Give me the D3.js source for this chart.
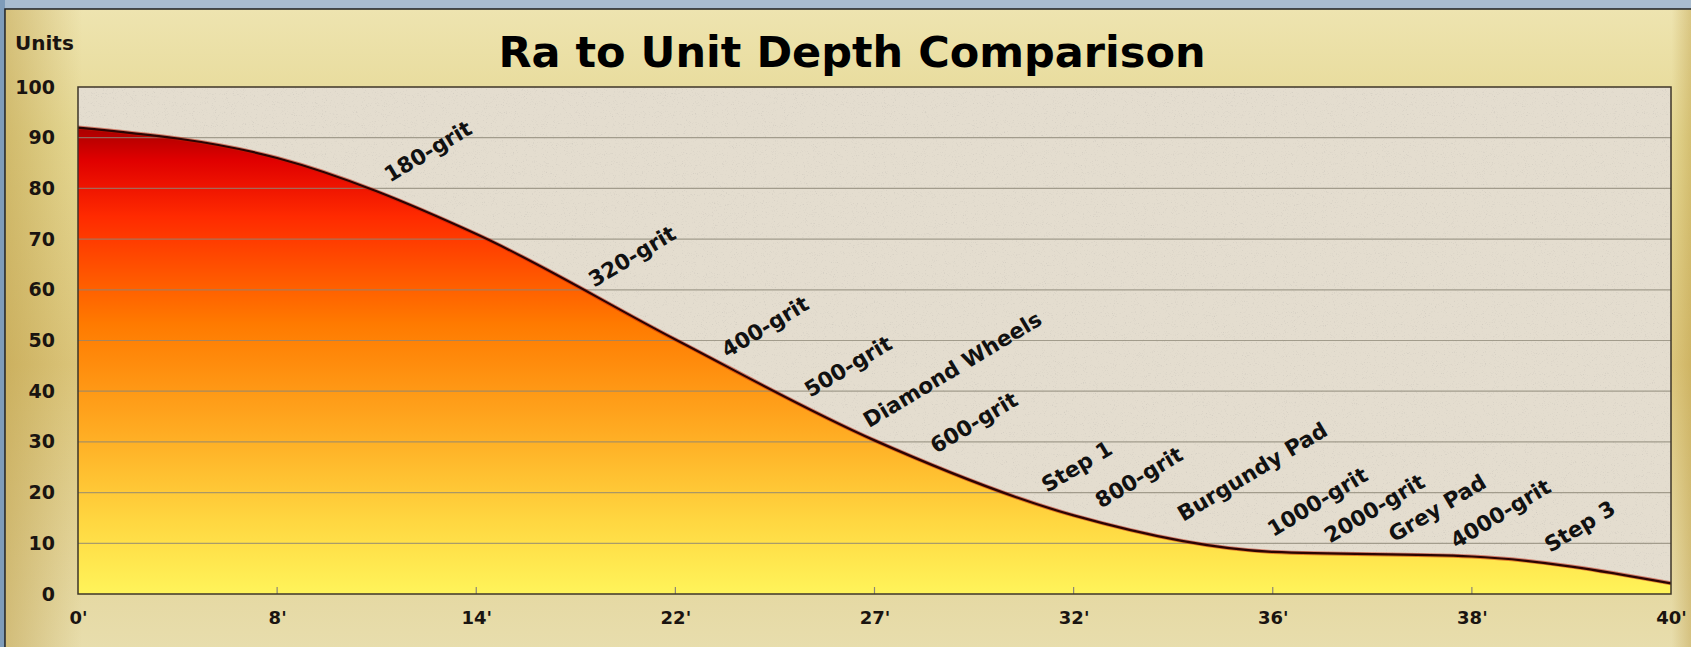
<!DOCTYPE html>
<html>
<head>
<meta charset="utf-8">
<script src="https://cdn.jsdelivr.net/npm/d3@7"></script>
<style>
  body { margin: 0; background: #a9bccf; overflow: hidden; }
  svg { display: block; }
  text { font-family: "DejaVu Sans", Verdana, sans-serif; font-weight: bold; }
</style>
</head>
<body>
<svg id="chart" width="1691" height="647"></svg>
<script>
// x categories (depth) and the Ra value read at each one
var xLabels = ["0'", "8'", "14'", "22'", "27'", "32'", "36'", "38'", "40'"];
var raValues = [92, 86, 71, 50.2, 30.3, 15.5, 8.3, 7.4, 2.1];
var yTicks = [0, 10, 20, 30, 40, 50, 60, 70, 80, 90, 100];

// notes along the curve: text, position on the x index, value
var noteNames = ["180-grit", "320-grit", "400-grit", "500-grit", "Diamond Wheels", "600-grit", "Step 1",
  "800-grit", "Burgundy Pad", "1000-grit", "2000-grit", "Grey Pad", "4000-grit", "Step 3"];
var noteX = [1.567, 2.592, 3.26, 3.677, 3.973, 4.309, 4.867, 5.138, 5.55, 6.002, 6.288, 6.61, 6.921, 7.393];
var noteY = [81.1, 60.4, 46.5, 38.7, 32.7, 27.6, 19.9, 16.8, 14.2, 11.2, 9.9, 10.1, 8.9, 8.1];

var svg = d3.select("#chart");
var width = +svg.attr("width");
var height = +svg.attr("height");

// plot box (window.top is taken, so prefix these)
var plotL = 78, plotR = 1671, plotT = 87, plotB = 594;

var x = d3.scaleLinear().domain([0, xLabels.length - 1]).range([plotL, plotR]);
var y = d3.scaleLinear().domain([0, 100]).range([plotB, plotT]);

var defs = svg.append("defs");

// gold panel colours
var pv = defs.append("linearGradient").attr("id", "panelV").attr("x1", 0).attr("y1", 0).attr("x2", 0).attr("y2", 1);
pv.append("stop").attr("offset", "0").attr("stop-color", "#eee4b0");
pv.append("stop").attr("offset", "0.2").attr("stop-color", "#e5d893");
pv.append("stop").attr("offset", "0.55").attr("stop-color", "#dcc67c");
pv.append("stop").attr("offset", "1").attr("stop-color", "#e8deae");

var ph = defs.append("linearGradient").attr("id", "panelH").attr("x1", 0).attr("y1", 0).attr("x2", 1).attr("y2", 0);
ph.append("stop").attr("offset", "0").attr("stop-color", "#b8963c").attr("stop-opacity", 0.45);
ph.append("stop").attr("offset", "0.045").attr("stop-color", "#b8963c").attr("stop-opacity", 0);
ph.append("stop").attr("offset", "0.985").attr("stop-color", "#b8963c").attr("stop-opacity", 0);
ph.append("stop").attr("offset", "1").attr("stop-color", "#b8963c").attr("stop-opacity", 0.5);

// fill under the curve, dark red at the top to yellow at 0
var ag = defs.append("linearGradient").attr("id", "areaFill").attr("gradientUnits", "userSpaceOnUse")
  .attr("x1", 0).attr("y1", y(d3.max(raValues))).attr("x2", 0).attr("y2", plotB);
var stops = [[0, "#a80000"], [0.07, "#e00000"], [0.19, "#ff2a00"], [0.42, "#ff7a00"], [0.65, "#ffab22"], [0.84, "#ffd640"], [1, "#fff45a"]];
stops.forEach(function(s) {
  ag.append("stop").attr("offset", s[0]).attr("stop-color", s[1]);
});

// speckles for the stone background
var grain = defs.append("filter").attr("id", "grain").attr("x", 0).attr("y", 0).attr("width", 1).attr("height", 1);
grain.append("feTurbulence").attr("type", "fractalNoise").attr("baseFrequency", 0.9).attr("numOctaves", 2).attr("seed", 7);
grain.append("feColorMatrix").attr("type", "matrix")
  .attr("values", "0 0 0 0 0.55  0 0 0 0 0.52  0 0 0 0 0.47  3.2 0 0 0 -1.9");

defs.append("clipPath").attr("id", "plotClip")
  .append("rect").attr("x", plotL).attr("y", plotT).attr("width", plotR - plotL).attr("height", plotB - plotT);

// background frame and panel
svg.append("rect").attr("width", width).attr("height", height).attr("fill", "#a9bccf");
svg.append("rect").attr("x", 0).attr("y", 0).attr("width", 5).attr("height", height).attr("fill", "#7f9cb9");
svg.append("rect").attr("x", 5).attr("y", 9).attr("width", width).attr("height", height)
  .attr("fill", "url(#panelV)").attr("stroke", "#1e1e1e").attr("stroke-width", 1.5);
svg.append("rect").attr("x", 6).attr("y", 10).attr("width", width).attr("height", height).attr("fill", "url(#panelH)");

// plot area
svg.append("rect").attr("x", plotL).attr("y", plotT).attr("width", plotR - plotL).attr("height", plotB - plotT)
  .attr("fill", "#e4ddcf");
svg.append("rect").attr("x", plotL).attr("y", plotT).attr("width", plotR - plotL).attr("height", plotB - plotT)
  .attr("filter", "url(#grain)").attr("opacity", 0.55);

var plot = svg.append("g").attr("clip-path", "url(#plotClip)");

var area = d3.area()
  .x(function(d, i) { return x(i); })
  .y0(plotB)
  .y1(function(d) { return y(d); })
  .curve(d3.curveMonotoneX);

var line = d3.line()
  .x(function(d, i) { return x(i); })
  .y(function(d) { return y(d); })
  .curve(d3.curveMonotoneX);

plot.append("path").datum(raValues).attr("d", area).attr("fill", "url(#areaFill)");

// grid lines on top of the fill
plot.selectAll(".grid").data(yTicks.slice(1, -1)).enter()
  .append("line")
  .attr("class", "grid")
  .attr("x1", plotL).attr("x2", plotR)
  .attr("y1", function(d) { return y(d); })
  .attr("y2", function(d) { return y(d); })
  .attr("stroke", "#8c8676").attr("stroke-opacity", 0.75).attr("stroke-width", 1.2);

plot.append("path").datum(raValues).attr("d", line)
  .attr("fill", "none").attr("stroke", "#c21a00").attr("stroke-width", 4).attr("stroke-opacity", 0.5);
plot.append("path").datum(raValues).attr("d", line)
  .attr("fill", "none").attr("stroke", "#2b0404").attr("stroke-width", 2.2);

// small ticks rising from the bottom
svg.selectAll(".xtick").data(d3.range(1, xLabels.length - 1)).enter()
  .append("line")
  .attr("x1", function(d) { return x(d); })
  .attr("x2", function(d) { return x(d); })
  .attr("y1", plotB - 7).attr("y2", plotB)
  .attr("stroke", "#8c8676").attr("stroke-width", 1.2);

svg.append("rect").attr("x", plotL).attr("y", plotT).attr("width", plotR - plotL).attr("height", plotB - plotT)
  .attr("fill", "none").attr("stroke", "#3e3628").attr("stroke-width", 1.5);

// axes
var yAxis = svg.append("g").attr("transform", "translate(" + plotL + ",0)")
  .call(d3.axisLeft(y).tickValues(yTicks).tickSize(0).tickPadding(23));
yAxis.select(".domain").remove();
yAxis.selectAll("text").attr("font-size", 19).attr("fill", "#1a1410")
  .style("font-family", "'DejaVu Sans', Verdana, sans-serif").style("font-weight", "bold");

var xAxis = svg.append("g").attr("transform", "translate(0," + plotB + ")")
  .call(d3.axisBottom(x).tickValues(d3.range(xLabels.length)).tickFormat(function(i) { return xLabels[i]; })
    .tickSize(0).tickPadding(17));
xAxis.select(".domain").remove();
xAxis.selectAll("text").attr("font-size", 18).attr("fill", "#1a1410")
  .style("font-family", "'DejaVu Sans', Verdana, sans-serif").style("font-weight", "bold");

// notes on the curve
svg.selectAll(".note").data(noteNames).enter()
  .append("text")
  .attr("class", "note")
  .attr("transform", function(d, i) {
    return "translate(" + x(noteX[i]) + "," + y(noteY[i]) + ") rotate(-31)";
  })
  .attr("font-size", 21.5)
  .attr("fill", "#111")
  .text(function(d) { return d; });

// titles
svg.append("text").attr("x", 852).attr("y", 67).attr("text-anchor", "middle")
  .attr("font-size", 43).attr("fill", "#000").text("Ra to Unit Depth Comparison");
svg.append("text").attr("x", 15).attr("y", 50).attr("font-size", 20).attr("fill", "#1a1410").text("Units");
</script>
</body>
</html>
